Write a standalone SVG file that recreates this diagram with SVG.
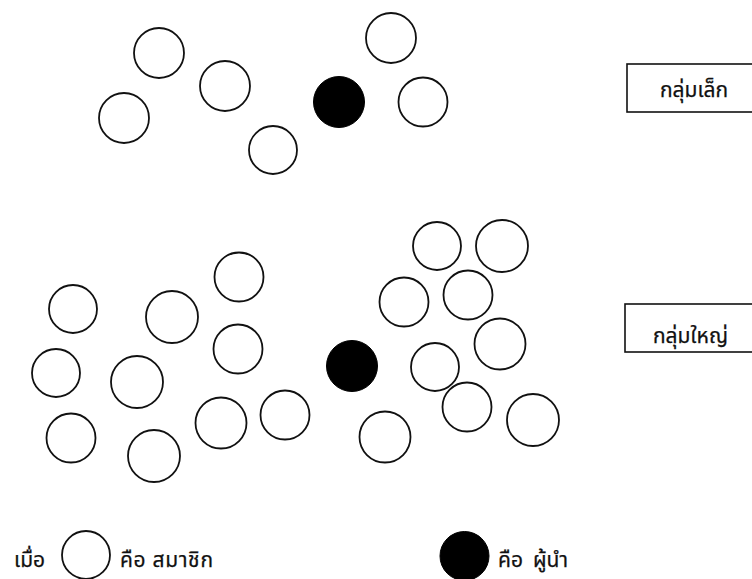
<svg xmlns="http://www.w3.org/2000/svg" width="752" height="579" viewBox="0 0 752 579">
<style>
.m{fill:#fff;stroke:#111;stroke-width:1.8}
.l{fill:#000;stroke:#000;stroke-width:1}
.box{fill:#fff;stroke:#111;stroke-width:1.6}
text{font-family:"Noto Sans Thai","Tahoma","Loma","Garuda","Noto Sans",sans-serif;font-size:21px;fill:#111;stroke:#111;stroke-width:0.25}
</style>
<rect width="752" height="579" fill="#fff"/>
<g id="small-group">
<circle class="m" cx="159" cy="53" r="25"/>
<circle class="m" cx="225" cy="86" r="25"/>
<circle class="m" cx="124" cy="118" r="25"/>
<circle class="m" cx="273" cy="150" r="24"/>
<circle class="l" cx="339" cy="102" r="25.5"/>
<circle class="m" cx="391" cy="38" r="25"/>
<circle class="m" cx="423" cy="102" r="24.5"/>
</g>
<g id="large-group">
<circle class="m" cx="73" cy="309" r="24"/>
<circle class="m" cx="172" cy="317" r="26"/>
<circle class="m" cx="239" cy="277" r="24.5"/>
<circle class="m" cx="56" cy="373" r="24"/>
<circle class="m" cx="137" cy="382" r="26"/>
<circle class="m" cx="238" cy="349" r="24.5"/>
<circle class="m" cx="71" cy="438" r="24.5"/>
<circle class="m" cx="154" cy="456" r="26"/>
<circle class="m" cx="221" cy="423" r="25.5"/>
<circle class="m" cx="285" cy="415" r="24.5"/>
<circle class="l" cx="352" cy="366" r="25.5"/>
<circle class="m" cx="437" cy="246" r="24"/>
<circle class="m" cx="502" cy="246" r="26"/>
<circle class="m" cx="404" cy="302" r="24.5"/>
<circle class="m" cx="468" cy="295" r="24.5"/>
<circle class="m" cx="500" cy="344" r="25.5"/>
<circle class="m" cx="435" cy="367" r="24"/>
<circle class="m" cx="467" cy="407" r="24.5"/>
<circle class="m" cx="533" cy="420" r="26"/>
<circle class="m" cx="385" cy="437" r="25.5"/>
</g>
<g id="label-small">
<rect class="box" x="627" y="64" width="140" height="48"/>
<text x="660" y="97">กลุ่มเล็ก</text>
</g>
<g id="label-large">
<rect class="box" x="625" y="304" width="140" height="48"/>
<text x="653" y="343">กลุ่มใหญ่</text>
</g>
<g id="legend">
<text x="14" y="567">เมื่อ</text>
<circle class="m" cx="86" cy="555" r="24"/>
<text x="120" y="567" textLength="93">คือ สมาชิก</text>
<circle class="l" cx="464.5" cy="556" r="24.5"/>
<text x="498" y="567">คือ</text>
<text x="533" y="567">ผู้นำ</text>
</g>
<g id="connectors"></g>
</svg>
